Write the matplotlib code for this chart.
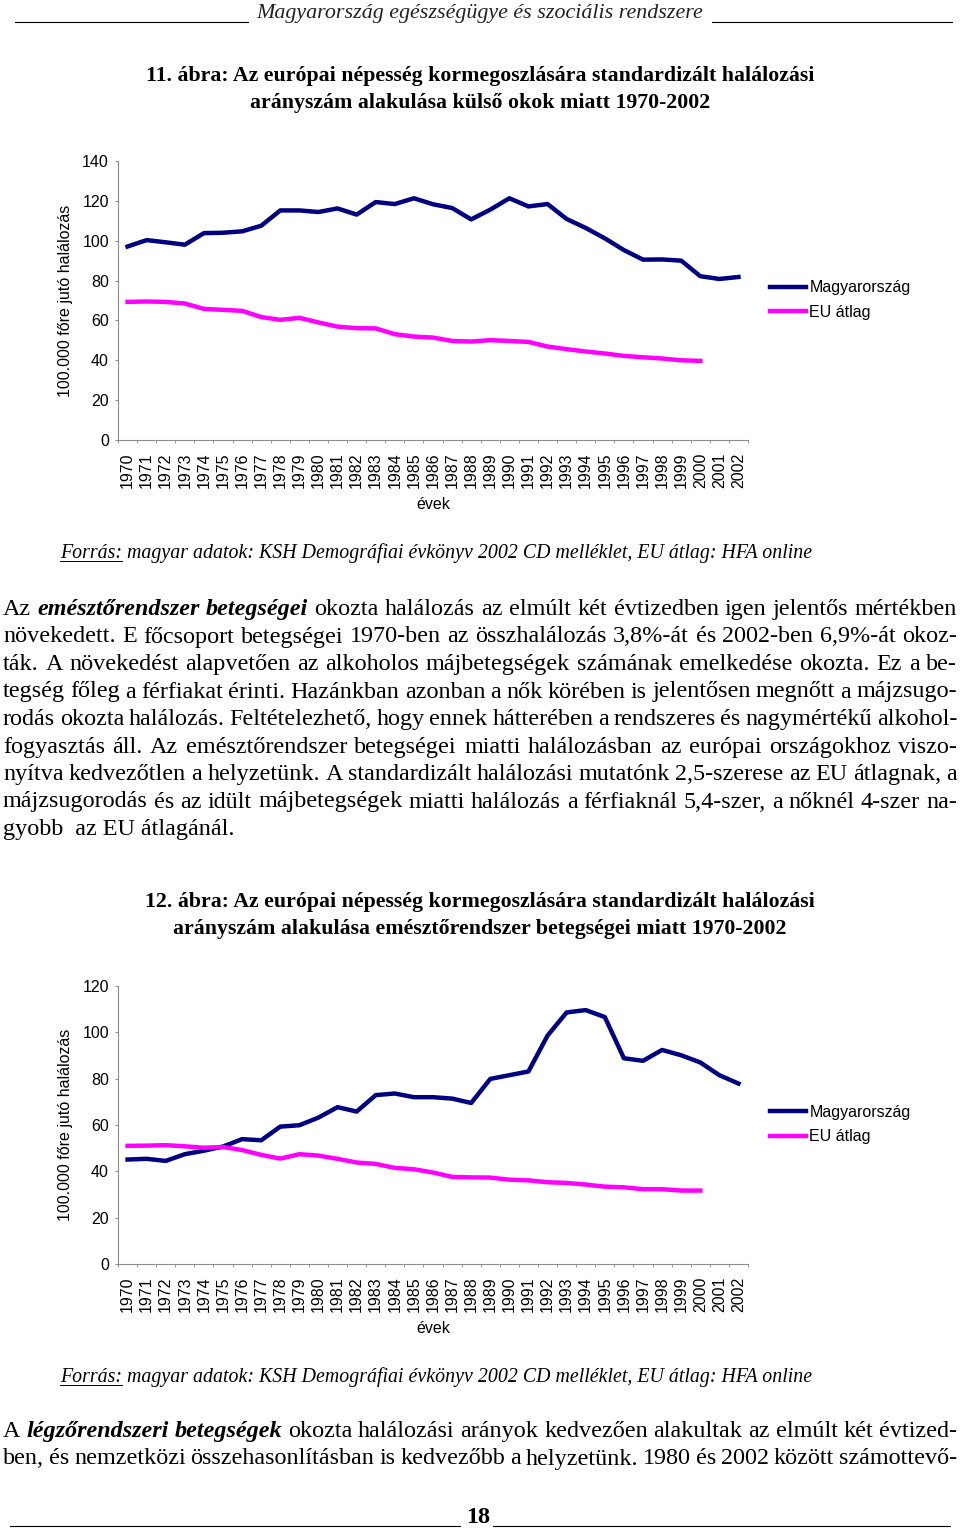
import matplotlib
matplotlib.use('Agg')
import matplotlib.pyplot as plt
from matplotlib.lines import Line2D

W, H = 960, 1531
SANS = 'Liberation Sans'
SERIF = 'Liberation Serif'
NAVY = '#000080'
PINK = '#ff00ff'
GREY = '#8c8c8c'
FS = 11.5

years = ['1970', '1971', '1972', '1973', '1974', '1975', '1976', '1977',
         '1978', '1979', '1980', '1981', '1982', '1983', '1984', '1985',
         '1986', '1987', '1988', '1989', '1990', '1991', '1992', '1993',
         '1994', '1995', '1996', '1997', '1998', '1999', '2000', '2001',
         '2002']

# 11. abra - kulso okok
hu_kulso = [97.1, 100.3, 99.2, 98.0, 103.8, 104.0, 104.7, 107.5, 115.2, 115.2,
            114.4, 116.2, 113.1, 119.4, 118.4, 121.3, 118.3, 116.4, 110.7, 115.6,
            121.3, 117.2, 118.4, 110.9, 106.4, 101.2, 95.3, 90.5, 90.6, 90.0,
            82.2, 80.8, 81.8]
eu_kulso = [69.3, 69.5, 69.3, 68.5, 65.8, 65.3, 64.8, 61.7, 60.3, 61.3,
            59.0, 56.9, 56.1, 56.0, 53.1, 51.9, 51.4, 49.7, 49.4, 50.1,
            49.7, 49.2, 46.9, 45.6, 44.4, 43.4, 42.2, 41.5, 40.9, 40.0, 39.7]

# 12. abra - emesztorendszer
hu_emeszto = [45.1, 45.4, 44.5, 47.4, 48.9, 50.7, 53.9, 53.4, 59.3, 59.9,
              63.2, 67.7, 65.8, 72.9, 73.6, 72.0, 72.0, 71.4, 69.5, 79.9,
              81.5, 83.1, 98.6, 108.6, 109.6, 106.6, 88.8, 87.7, 92.4, 90.1,
              87.0, 81.5, 77.9]
eu_emeszto = [51.0, 51.1, 51.3, 50.8, 50.2, 50.5, 49.2, 47.1, 45.5, 47.4,
              46.8, 45.4, 43.8, 43.2, 41.5, 40.9, 39.5, 37.6, 37.4, 37.3,
              36.4, 36.1, 35.3, 35.0, 34.3, 33.4, 33.1, 32.3, 32.3, 31.7, 31.7]

series_names = ['Magyarország', 'EU átlag']

header = 'Magyarország egészségügye és szociális rendszere'
title1 = ['11. ábra: Az európai népesség kormegoszlására standardizált halálozási',
          'arányszám alakulása külső okok miatt 1970-2002']
title2 = ['12. ábra: Az európai népesség kormegoszlására standardizált halálozási',
          'arányszám alakulása emésztőrendszer betegségei miatt 1970-2002']
source = ('Forrás: magyar adatok: KSH Demográfiai évkönyv 2002 CD melléklet, '
          'EU átlag: HFA online')

# words starting with * are bold italic
para1 = [
    'Az *emésztőrendszer *betegségei okozta halálozás az elmúlt két évtizedben igen jelentős mértékben',
    'növekedett. E főcsoport betegségei 1970-ben az összhalálozás 3,8%-át és 2002-ben 6,9%-át okoz-',
    'ták. A növekedést alapvetően az alkoholos májbetegségek számának emelkedése okozta. Ez a be-',
    'tegség főleg a férfiakat érinti. Hazánkban azonban a nők körében is jelentősen megnőtt a májzsugo-',
    'rodás okozta halálozás. Feltételezhető, hogy ennek hátterében a rendszeres és nagymértékű alkohol-',
    'fogyasztás áll. Az emésztőrendszer betegségei miatti halálozásban az európai országokhoz viszo-',
    'nyítva kedvezőtlen a helyzetünk. A standardizált halálozási mutatónk 2,5-szerese az EU átlagnak, a',
    'májzsugorodás és az idült májbetegségek miatti halálozás a férfiaknál 5,4-szer, a nőknél 4-szer na-',
]
para1_last = 'gyobb  az EU átlagánál.'
para2 = [
    'A *légzőrendszeri *betegségek okozta halálozási arányok kedvezően alakultak az elmúlt két évtized-',
    'ben, és nemzetközi összehasonlításban is kedvezőbb a helyzetünk. 1980 és 2002 között számottevő-',
]

fig = plt.figure(figsize=(W / 100, H / 100), dpi=100)
renderer = fig.canvas.get_renderer()


def fx(px):
    return px / W


def fy(py):
    return 1 - py / H


def width_of(s, size, **kw):
    t = fig.text(0, 0, s, fontsize=size, **kw)
    w = t.get_window_extent(renderer).width
    t.remove()
    return w


def fit_size(s, width, **kw):
    return 10 * width / width_of(s, 10, **kw)


def hline(x0, x1, py, lw=0.8):
    fig.add_artist(Line2D([fx(x0), fx(x1)], [fy(py), fy(py)],
                          transform=fig.transFigure, color='black', lw=lw))


def justify(lines, base, pitch, size, x0=3, x1=957):
    for i, line in enumerate(lines):
        words = []
        for w in line.split(' '):
            if w.startswith('*'):
                words.append((w[1:], dict(weight='bold', style='italic')))
            else:
                words.append((w, {}))
        widths = [width_of(w, size, family=SERIF, **st) for w, st in words]
        gap = (x1 - x0 - sum(widths)) / (len(words) - 1)
        x = x0
        for (w, st), wd in zip(words, widths):
            fig.text(fx(x), fy(base + i * pitch), w, fontsize=size,
                     family=SERIF, va='baseline', ha='left', **st)
            x += wd + gap


def draw_chart(rect, hu, eu, ymax, legend_y):
    ax = fig.add_axes(rect)
    x = list(range(len(years)))
    ax.plot(x[:len(hu)], hu, color=NAVY, lw=3.2, label=series_names[0])
    ax.plot(x[:len(eu)], eu, color=PINK, lw=3.2, label=series_names[1])
    ax.set_xlim(-0.5, len(years) - 0.5)
    ax.set_ylim(0, ymax)
    ax.set_yticks(range(0, ymax + 1, 20))
    ax.set_xticks(x)
    ax.set_xticklabels(years, rotation=90, fontsize=FS, family=SANS)
    ax.set_xticks([i - 0.5 for i in range(len(years) + 1)], minor=True)
    ax.tick_params(axis='x', which='major', length=0, pad=9)
    ax.tick_params(axis='x', which='minor', length=2.5, color=GREY)
    ax.tick_params(axis='y', length=2.5, color=GREY, pad=4, labelsize=FS)
    for lab in ax.get_yticklabels():
        lab.set_family(SANS)
    ax.spines[['top', 'right']].set_visible(False)
    ax.spines[['left', 'bottom']].set_color(GREY)
    ax.set_xlabel('évek', fontsize=FS, family=SANS, labelpad=6)
    ax.set_ylabel('100.000 főre jutó halálozás', fontsize=FS, family=SANS,
                  va='center')
    ax.yaxis.set_label_coords(-0.084, 0.5)
    ax.legend(loc='center left', bbox_to_anchor=(fx(770), fy(legend_y)),
              bbox_transform=fig.transFigure, frameon=False, borderpad=0,
              borderaxespad=0, handlelength=2.25, handletextpad=0.22,
              labelspacing=0.6, prop=dict(family=SANS, size=FS))
    return ax


# page header
hs = fit_size(header, 446, family=SERIF, style='italic')
fig.text(fx(480), fy(18), header, fontsize=hs, family=SERIF, style='italic',
         ha='center', va='baseline', color='#222222')
hline(15, 248, 22)
hline(712, 952, 22)

ts = fit_size(title1[0], 670, family=SERIF, weight='bold')
for i, s in enumerate(title1):
    fig.text(fx(480), fy(81 + 27 * i), s, fontsize=ts, family=SERIF,
             weight='bold', ha='center', va='baseline')
for i, s in enumerate(title2):
    fig.text(fx(480), fy(907 + 27 * i), s, fontsize=ts, family=SERIF,
             weight='bold', ha='center', va='baseline')

draw_chart([fx(118), fy(440), 630 / W, 279 / H], hu_kulso, eu_kulso, 140, 300)
draw_chart([fx(118), fy(1264), 630 / W, 278 / H], hu_emeszto, eu_emeszto, 120,
           1124.5)

# sources
ss = fit_size(source, 752, family=SERIF, style='italic')
uw = width_of('Forrás:', ss, family=SERIF, style='italic')
for py in [558, 1382]:
    fig.text(fx(60), fy(py), source, fontsize=ss, family=SERIF, style='italic',
             ha='left', va='baseline')
    hline(60, 60 + uw, py + 3, lw=0.7)

# body text
bs = fit_size(para1_last, 226, family=SERIF) * 1.025
justify(para1, 615, 27.5, bs)
fig.text(fx(3), fy(835), para1_last, fontsize=bs, family=SERIF,
         ha='left', va='baseline')
justify(para2, 1437, 27.5, bs)

# footer
fig.text(fx(478), fy(1523), '18', fontsize=bs, family=SERIF, weight='bold',
         ha='center', va='baseline')
hline(10, 460, 1526)
hline(493, 950, 1526)

plt.savefig('out.png', dpi=100)
